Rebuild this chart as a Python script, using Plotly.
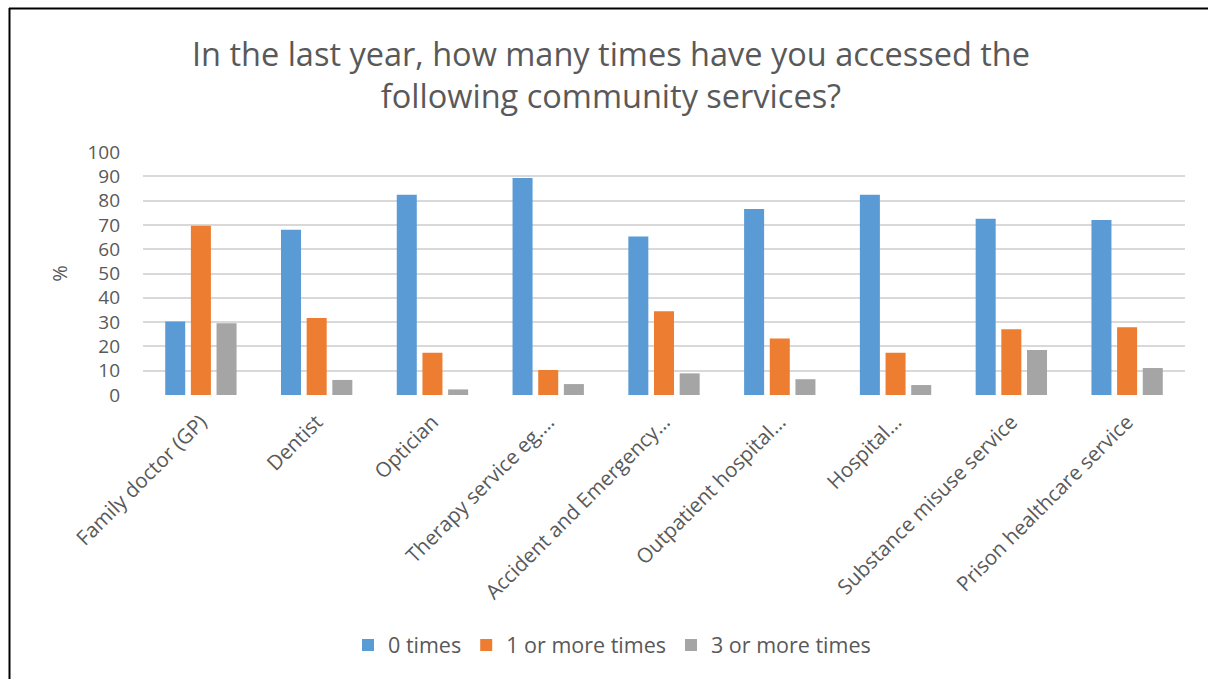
import plotly.graph_objects as go

# Community services and share of respondents (%) by number of visits
services = [
    "Family doctor (GP)",
    "Dentist",
    "Optician",
    "Therapy service eg.…",
    "Accident and Emergency…",
    "Outpatient hospital…",
    "Hospital…",
    "Substance misuse service",
    "Prison healthcare service",
]
zero_times = [30.2, 68.0, 82.4, 89.3, 65.2, 76.5, 82.4, 72.5, 72.0]
one_or_more = [69.6, 31.7, 17.4, 10.3, 34.5, 23.3, 17.4, 27.1, 27.9]
three_or_more = [29.5, 6.2, 2.3, 4.5, 8.9, 6.5, 4.1, 18.5, 11.1]

series_names = ["0 times", "1 or more times", "3 or more times"]
series_colors = ["#5b9bd5", "#ed7d31", "#a5a5a5"]

W, H = 1208, 679
ML, MR, MT, MB = 143, 23, 152, 284
FONT = "Open Sans"
TEXT = "#595959"

fig = go.Figure()
for name, vals, col in zip(series_names, [zero_times, one_or_more, three_or_more], series_colors):
    fig.add_trace(go.Bar(x=services, y=vals, name=name, marker=dict(color=col, line=dict(width=0))))


def px_x(p):
    return (p - ML) / (W - ML - MR)


def px_y(p):
    return 1 - (p - MT) / (H - MT - MB)


# chart frame: top and left edges
fig.add_shape(type="line", xref="paper", yref="paper",
              x0=px_x(9), x1=px_x(1215), y0=px_y(8.5), y1=px_y(8.5),
              line=dict(color="black", width=2))
fig.add_shape(type="line", xref="paper", yref="paper",
              x0=px_x(9.5), x1=px_x(9.5), y0=px_y(8), y1=px_y(690),
              line=dict(color="black", width=2))

fig.update_layout(
    width=W, height=H,
    margin=dict(l=ML, r=MR, t=MT, b=MB, autoexpand=False),
    paper_bgcolor="white", plot_bgcolor="white",
    font=dict(family=FONT, color=TEXT, size=19),
    title=dict(
        text="In the last year, how many times have you accessed the<br>following community services?",
        x=611 / W, xanchor="center", xref="container",
        y=1 - 66 / H, yanchor="middle", yref="container",
        font=dict(family=FONT, size=32.5, color=TEXT),
    ),
    barmode="group", bargap=0.335, bargroupgap=0.22,
    legend=dict(
        orientation="h", x=612 / W, xanchor="center", xref="container",
        y=1 - 645 / H, yanchor="middle", yref="container",
        font=dict(size=21.5, color=TEXT), itemwidth=30, traceorder="normal",
    ),
    xaxis=dict(
        tickangle=-45, tickfont=dict(size=20.5, color=TEXT),
        showgrid=False, showline=False, ticks="", ticklabelstandoff=10,
    ),
    yaxis=dict(
        range=[0, 100], dtick=10, tickfont=dict(size=19, color=TEXT),
        gridcolor="#d9d9d9", gridwidth=1.5, zeroline=False, showline=False,
        ticks="", ticklen=0, ticklabelstandoff=22,
        title=dict(text="%", font=dict(size=20, color=TEXT), standoff=14),
    ),
)

fig.write_html("out.html")
